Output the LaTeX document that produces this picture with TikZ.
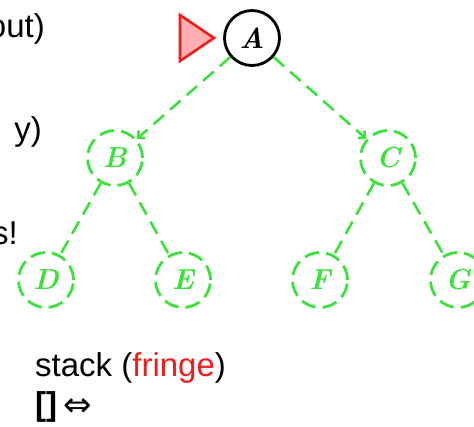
\documentclass[tikz,border=0pt]{standalone}
\usepackage{fontspec}
\setmainfont{Liberation Sans}
\newfontfamily\symfont{DejaVu Sans}
\newfontfamily\lmroman{Latin Modern Roman}
\usetikzlibrary{arrows.meta}
\definecolor{leafgreen}{RGB}{60,225,60}
\definecolor{tipred}{RGB}{235,30,30}
\definecolor{tippink}{RGB}{255,175,175}
\tikzset{
  treenode/.style={circle, minimum size=55pt, inner sep=0pt, line width=2.8pt,
    font=\lmroman\bfseries\itshape\fontsize{29}{29}\selectfont},
  openode/.style={treenode, draw=leafgreen, text=leafgreen, dash pattern=on 15pt off 7pt},
  curnode/.style={treenode, draw=black, text=black},
  treeedge/.style={draw=leafgreen, line width=2.6pt, dash pattern=on 14pt off 8pt},
  sidetext/.style={font=\fontsize{33}{33}\selectfont, inner sep=0pt, anchor=base east},
  bodytext/.style={font=\fontsize{33}{33}\selectfont, inner sep=0pt, anchor=base west},
}
\begin{document}
\begin{tikzpicture}[x=1pt, y=-1pt]
  \useasboundingbox (0,0) rectangle (474,427);
  \clip (0,0) rectangle (474,427);

  % partial lines of text at the left margin
  \node[sidetext] (t1) at (45,38) {out)};
  \node[sidetext] (t2) at (42,141) {y)};
  \node[sidetext] (t3) at (18,245) {s!};

  % the tree
  \node[curnode] (A) at (252,38) {A};
  \node[openode] (B) at (115,158) {B};
  \node[openode] (C) at (388,158) {C};
  \node[openode] (D) at (46,280) {D};
  \node[openode] (E) at (183,280) {E};
  \node[openode] (F) at (320,280) {F};
  \node[openode] (G) at (458,280) {G};

  \draw[treeedge, -{Straight Barb[length=5pt,width=10pt,line width=2.6pt]}] (A) -- (B);
  \draw[treeedge, -{Straight Barb[length=5pt,width=10pt,line width=2.6pt]}] (A) -- (C);
  \draw[treeedge] (B) -- (D);
  \draw[treeedge] (B) -- (E);
  \draw[treeedge] (C) -- (F);
  \draw[treeedge] (C) -- (G);

  % pointer to the current node
  \coordinate (ptip) at (214,38);
  \filldraw[draw=tipred, fill=tippink, line width=2.6pt, line join=miter]
    (ptip) -- (180,15) -- (180,61) -- cycle;

  % stack contents
  \node[bodytext] (stk) at (35,377) {stack ({\color{tipred}fringe})};
  \node[bodytext] (lst) at (35,416) {\textbf{[]}\hspace{6pt}{\symfont\fontsize{34}{34}\selectfont\raisebox{-1pt}{⇔}}};
\end{tikzpicture}
\end{document}
